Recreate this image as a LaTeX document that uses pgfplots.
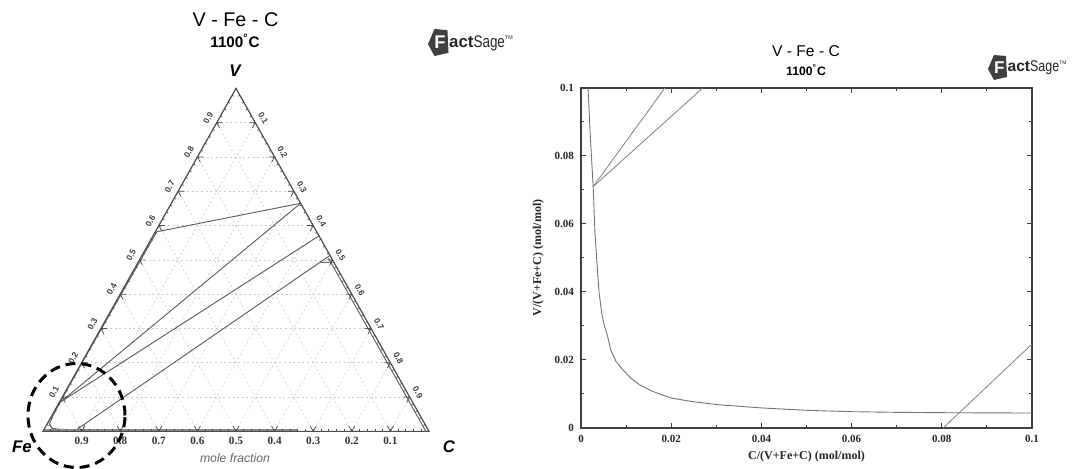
\documentclass[border=0pt]{standalone}
\usepackage{fontspec}
\setmainfont{Liberation Serif}
\setsansfont{Liberation Sans}
\usepackage{pgfplots}
\pgfplotsset{compat=1.18}
\usetikzlibrary{calc}
\pgfdeclarelayer{bg}
\pgfsetlayers{bg,main}
\newcommand{\fs}[1]{\fontsize{#1}{#1}\selectfont}
\newcommand{\fslogo}[2]{%
\begin{scope}[shift={#1}, scale=#2, every node/.style={scale=#2}]
\fill[black!75] (0,-1) -- (3,-6.5) -- (9.5,-5) -- (9,5.5) -- (3,6) -- cycle;
\node[white, font=\sffamily\bfseries\fs{8.5}, inner sep=0] at (5.6,-0.3) {F};
\node[anchor=west, inner sep=0, font=\sffamily\fs{7.8}, text=black!85] at (9.6,-0.5) {\textbf{act}\scalebox{0.8}[1]{Sage}\raisebox{0.9ex}{\fs{2.5}TM}};
\end{scope}}
\begin{document}
\begin{tikzpicture}[x=1pt,y=1pt]
\useasboundingbox (0,0) rectangle (536.5,234.5);
% ---------------- ternary diagram (coordinates: x = C fraction, y = V fraction)
\begin{axis}[
  at={(21.5pt,18.8pt)}, anchor=origin,
  x={(193pt,0pt)}, y={(96.5pt,171.5pt)},
  xmin=0,xmax=1,ymin=0,ymax=1,
  hide axis, clip=false,
]
\addplot[black!65, line width=0.45pt] coordinates {(0.004,0.582) (0.335,0.665)};
\addplot[black!65, line width=0.45pt] coordinates {(0.335,0.665) (0.002,0.085)};
\addplot[black!65, line width=0.45pt] coordinates {(0.43,0.57) (0.002,0.085)};
\addplot[black!65, line width=0.45pt] coordinates {(0.487,0.513) (0.0803,0.0)};
\addplot[black!65, line width=0.45pt] coordinates {(0.487,0.505) (0.992,0.0)};
\addplot[black!60, line width=0.45pt] coordinates {(0.004,0.582) (0.002,0.3) (0.0012,0.2) (0.0016,0.12) (0.002,0.085) (0.003,0.045) (0.0045,0.03) (0.0065,0.022) (0.01,0.016) (0.02,0.009) (0.04,0.006) (0.1,0.0044)};
\addplot[black!45, line width=1.1pt] coordinates {(0.0,0.003) (0.66,0.003)};
\addplot[black!60, line width=0.4pt] coordinates {(0.028,0.0) (0.0,0.028)};
\addplot[black!60, line width=0.4pt] coordinates {(0.0153,0.1082) (0.0191,0.1044)};
\addplot[black!60, line width=0.4pt] coordinates {(0.4707,0.4925) (0.507,0.493)};
\addplot[black!60, line width=0.4pt] coordinates {(0.0966,0.0205) (0.105,0.0)};
\coordinate (Fe) at (axis cs:0,0);
\coordinate (C) at (axis cs:1,0);
\coordinate (V) at (axis cs:0,1);
\end{axis}
\begin{pgfonlayer}{bg}
\foreach \t in {0.1,0.2,0.3,0.4,0.5,0.6,0.7,0.8,0.9} {
  \draw[black!20, line width=0.3pt, dash pattern=on 1pt off 1.3pt] ($(Fe)!\t!(V)$) -- ($(C)!\t!(V)$);
  \draw[black!20, line width=0.3pt, dash pattern=on 1pt off 1.3pt] ($(Fe)!\t!(C)$) -- ($(V)!\t!(C)$);
  \draw[black!20, line width=0.3pt, dash pattern=on 1pt off 1.3pt] ($(Fe)!\t!(C)$) -- ($(Fe)!\t!(V)$);
}
\end{pgfonlayer}
\draw[black!70, line width=0.6pt] (Fe) -- (C) -- (V) -- cycle;
\foreach \t in {0.1,0.2,0.3,0.4,0.5,0.6,0.7,0.8,0.9} {
  \draw[black!70, line width=0.35pt] ($(Fe)!\t!(C)$) -- ++(60.63:3) ($(Fe)!\t!(C)$) -- ++(119.37:3);
  \draw[black!70, line width=0.35pt] ($(Fe)!\t!(V)$) -- ++(0:3) ($(Fe)!\t!(V)$) -- ++(-60.63:3);
  \draw[black!70, line width=0.35pt] ($(C)!\t!(V)$) -- ++(180:3) ($(C)!\t!(V)$) -- ++(240.63:3);
}
\foreach \i in {1,...,49} {
  \pgfmathsetmacro\t{\i/50}
  \draw[black!70, line width=0.35pt] ($(Fe)!\t!(C)$) -- ++(90:1);
  \draw[black!70, line width=0.35pt] ($(Fe)!\t!(V)$) -- ++(-29.37:1);
  \draw[black!70, line width=0.35pt] ($(C)!\t!(V)$) -- ++(209.37:1);
}
\foreach \t/\l in {0.1/0.9,0.2/0.8,0.3/0.7,0.4/0.6,0.5/0.5,0.6/0.4,0.7/0.3,0.8/0.2,0.9/0.1} {
  \node[font=\bfseries\fs{5.6}, text=black!80, inner sep=0] at ($(Fe)!\t!(C)+(0,-4.8)$) {\l};
}
\foreach \t in {0.1,0.2,0.3,0.4,0.5,0.6,0.7,0.8,0.9} {
  \node[font=\sffamily\bfseries\fs{4.2}, text=black!75, inner sep=0, rotate=60.63] at ($(Fe)!\t!(V)+(150.63:4.8)$) {\t};
  \node[font=\sffamily\bfseries\fs{4.2}, text=black!75, inner sep=0, rotate=-60.63] at ($(V)!\t!(C)+(29.37:4.6)$) {\t};
}
\node[font=\sffamily\bfseries\itshape\fs{8.4}] at (117.5,199) {V};
\node[font=\sffamily\bfseries\itshape\fs{8.4}] at (11,11) {Fe};
\node[font=\sffamily\bfseries\itshape\fs{8.4}] at (224.5,11) {C};
\node[font=\sffamily\itshape\fs{6.1}, text=black!60] at (117.5,5.5) {mole fraction};
\node[font=\sffamily\fs{9.9}] at (117.75,224.5) {V - Fe - C};
\node[font=\sffamily\bfseries\fs{7.6}] at (117.5,214) {1100\textsuperscript{°}C};
\draw[black, line width=1.5pt, dash pattern=on 5pt off 3pt] (38.25,26.75) ellipse (24.25 and 26);
\fslogo{(214,213.5)}{1.08}
% ---------------- Cartesian plot
\begin{axis}[
  at={(290.5pt,20.5pt)}, anchor=south west,
  scale only axis, width=225.5pt, height=170pt,
  xmin=0, xmax=0.1, ymin=0, ymax=0.1,
  xtick={0,0.02,0.04,0.06,0.08,0.1}, xticklabels={0,0.02,0.04,0.06,0.08,0.1},
  ytick={0,0.02,0.04,0.06,0.08,0.1}, yticklabels={0,0.02,0.04,0.06,0.08,0.1},
  minor x tick num=1, minor y tick num=1,
  tick align=inside, major tick length=2.5pt, minor tick length=1.5pt,
  axis line style={black!75, line width=0.75pt},
  tick style={black!75, line width=0.5pt},
  ticklabel style={font=\bfseries\fs{5.5}, text=black!85},
  xlabel={C/(V+Fe+C) (mol/mol)}, ylabel={V/(V+Fe+C) (mol/mol)},
  label style={font=\bfseries\fs{6}, text=black!85},
  xlabel style={at={(axis description cs:0.5,-0.085)}, anchor=center},
  ylabel style={at={(axis description cs:-0.095,0.5)}, anchor=center},
  scaled ticks=false,
]
\addplot[black!55, line width=0.45pt] coordinates {
(0.00155,0.1) (0.0021,0.085) (0.0027,0.071) (0.0031,0.0573) (0.0036,0.0474)
(0.0040,0.040) (0.0046,0.0337) (0.0052,0.030) (0.0058,0.0275) (0.0066,0.0229)
(0.0078,0.0195) (0.0093,0.0171) (0.011,0.0147) (0.0131,0.0126) (0.016,0.0107)
(0.020,0.0088) (0.025,0.0077) (0.0308,0.0068) (0.040,0.0059) (0.050,0.0052)
(0.0597,0.0048) (0.070,0.0046) (0.080,0.0045) (0.1,0.0044)};
\addplot[black!50, line width=0.4pt] coordinates {(0.0027,0.071) (0.0186,0.1)};
\addplot[black!50, line width=0.4pt] coordinates {(0.0027,0.071) (0.027,0.1)};
\addplot[black!50, line width=0.4pt] coordinates {(0.0803,0.0) (0.1,0.0247)};
\end{axis}
\node[font=\sffamily\fs{7.8}] at (403,208.75) {V - Fe - C};
\node[font=\sffamily\bfseries\fs{6.1}] at (403,199.5) {1100\textsuperscript{°}C};
\fslogo{(494,201)}{1}
\end{tikzpicture}
\end{document}
